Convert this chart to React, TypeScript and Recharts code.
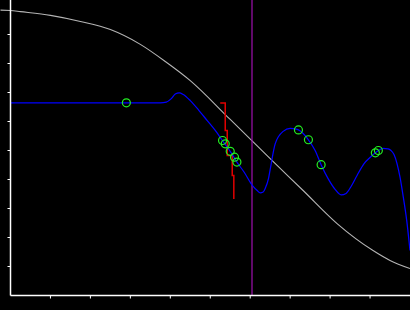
import React from 'react';
import { ComposedChart, Line, Scatter, XAxis, YAxis, ReferenceLine } from 'recharts';

// gray reference curve (x, y)
const grayX = [-0.25, 0, 0.25, 1, 1.75, 2.5, 3.25, 3.875, 4.5, 5.5, 6.5, 7.325, 8.175, 9.075, 9.5, 10];
const grayY = [9.84, 9.83, 9.79, 9.66, 9.45, 9.17, 8.66, 8.07, 7.41, 6.07, 4.72, 3.62, 2.48, 1.55, 1.21, 0.93];

// blue response curve
const blueX = [0, 2.25, 3.75, 3.9, 4.025, 4.125, 4.225, 4.325, 4.5, 4.7, 4.925, 5.125, 5.3075, 5.5, 5.6675, 5.85, 6.0575, 6.175, 6.25, 6.325, 6.375, 6.4575, 6.5, 6.625, 6.825, 7.0, 7.15, 7.2075, 7.4575, 7.625, 7.775, 7.95, 8.125, 8.275, 8.4, 8.525, 8.675, 8.85, 9.0, 9.1325, 9.2075, 9.325, 9.45, 9.525, 9.6, 9.675, 9.75, 9.8325, 9.9175, 10];
const blueY = [6.645, 6.645, 6.645, 6.67, 6.79, 6.95, 6.99, 6.93, 6.72, 6.41, 6.03, 5.69, 5.34, 4.97, 4.6, 4.25, 3.79, 3.62, 3.54, 3.57, 3.69, 4.03, 4.34, 5.23, 5.66, 5.76, 5.74, 5.71, 5.37, 5.0, 4.51, 4.03, 3.66, 3.47, 3.52, 3.76, 4.14, 4.55, 4.76, 4.92, 5.0, 5.07, 5.06, 5.0, 4.86, 4.55, 4.08, 3.39, 2.59, 1.55];

// red staircase
const redX = [5.25, 5.375, 5.425, 5.55, 5.59];
const redY = [6.64, 5.69, 4.83, 4.14, 3.33];

// green markers
const markX = [2.9, 5.3075, 5.375, 5.5, 5.6075, 5.6675, 7.2075, 7.4575, 7.775, 9.1325, 9.2075];
const markY = [6.645, 5.345, 5.23, 4.97, 4.77, 4.6, 5.71, 5.37, 4.51, 4.92, 5.0];

const purpleX = 6.045;
const xTicks = [1, 2, 3, 4, 5, 6, 7, 8, 9];
const yTicks = [1, 2, 3, 4, 5, 6, 7, 8, 9];
const yTop = 295.5 / 29;

const zip = (xs: number[], ys: number[]) => xs.map((x, i) => ({ x, y: ys[i] }));
const grayData = zip(grayX, grayY);
const blueData = zip(blueX, blueY);
const redData = zip(redX, redY);
const markData = zip(markX, markY);

const Ring = (props: any) => {
  const { cx, cy } = props;
  if (cx == null || cy == null) return <g />;
  return <circle cx={cx} cy={cy} r={4} fill="none" stroke="#22ee22" strokeWidth={1.2} />;
};

const NoLabel = () => <g />;

export default function App() {
  return (
    <div style={{ position: 'absolute', left: 0, top: 0, width: 410, height: 310, background: '#000' }}>
      <div style={{ position: 'absolute', left: 0, top: 0 }}>
        <ComposedChart width={410} height={310} margin={{ top: 0, right: 0, left: 0, bottom: 14.5 }}>
          <XAxis hide type="number" dataKey="x" domain={[-0.2625, 10]} allowDataOverflow />
          <YAxis hide type="number" domain={[0, yTop]} allowDataOverflow />
          <Line data={grayData} dataKey="y" type="monotone" stroke="#b4b4b4" strokeWidth={1.1} dot={false} isAnimationActive={false} />
        </ComposedChart>
      </div>
      <div style={{ position: 'absolute', left: 0, top: 0 }}>
        <ComposedChart width={410} height={310} margin={{ top: 0, right: 0, left: 0.5, bottom: 0 }}>
          <XAxis
            type="number"
            dataKey="x"
            domain={[0, 10]}
            ticks={xTicks}
            allowDataOverflow
            height={14.5}
            stroke="#fff"
            tickSize={3}
            tick={NoLabel}
            tickLine={{ stroke: '#fff' }}
            axisLine={{ stroke: '#fff', strokeWidth: 1.5 }}
          />
          <YAxis
            type="number"
            dataKey="y"
            domain={[0, yTop]}
            ticks={yTicks}
            allowDataOverflow
            width={10}
            stroke="#fff"
            tickSize={3}
            tick={NoLabel}
            tickLine={{ stroke: '#fff' }}
            axisLine={{ stroke: '#fff', strokeWidth: 1.5 }}
          />
          <ReferenceLine x={purpleX} stroke="#a010b0" strokeWidth={1.2} />
          <Line data={redData} dataKey="y" type="stepAfter" stroke="#e00000" strokeWidth={1.5} dot={false} isAnimationActive={false} />
          <Line data={blueData} dataKey="y" type="monotone" stroke="#0000ff" strokeWidth={1.25} dot={false} isAnimationActive={false} />
          <Scatter data={markData} dataKey="y" shape={Ring} isAnimationActive={false} />
        </ComposedChart>
      </div>
    </div>
  );
}
